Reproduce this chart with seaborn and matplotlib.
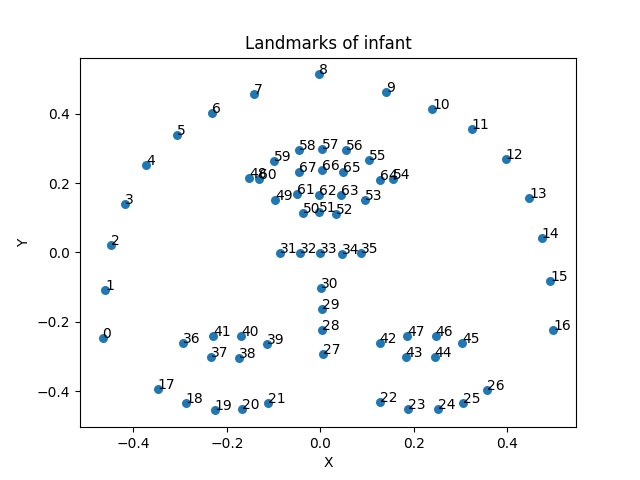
import numpy as np
import pandas as pd
import matplotlib
matplotlib.use("Agg")
import matplotlib.pyplot as plt
import seaborn as sns

# landmark coordinates, index = landmark id
x = [-0.466, -0.460, -0.447, -0.419, -0.372, -0.306, -0.232, -0.142, -0.002, 0.141,
     0.240, 0.324, 0.397, 0.447, 0.474, 0.492, 0.499, -0.348, -0.288, -0.226,
     -0.168, -0.112, 0.127, 0.188, 0.251, 0.305, 0.357, 0.006, 0.004, 0.004,
     0.001, -0.087, -0.044, -0.001, 0.047, 0.088, -0.294, -0.234, -0.174, -0.114,
     -0.170, -0.230, 0.127, 0.183, 0.245, 0.303, 0.247, 0.186, -0.152, -0.096,
     -0.037, -0.002, 0.034, 0.096, 0.155, 0.105, 0.054, 0.004, -0.046, -0.099,
     -0.131, -0.049, -0.002, 0.045, 0.127, 0.049, 0.004, -0.046]
y = [-0.247, -0.109, 0.021, 0.141, 0.253, 0.340, 0.403, 0.456, 0.514, 0.464,
     0.414, 0.355, 0.270, 0.157, 0.042, -0.083, -0.223, -0.395, -0.435, -0.456,
     -0.453, -0.435, -0.432, -0.453, -0.453, -0.434, -0.398, -0.294, -0.223, -0.164,
     -0.103, -0.003, -0.001, -0.001, -0.004, -0.002, -0.262, -0.302, -0.305, -0.265,
     -0.242, -0.242, -0.262, -0.302, -0.302, -0.262, -0.242, -0.242, 0.216, 0.151,
     0.115, 0.118, 0.112, 0.152, 0.212, 0.268, 0.295, 0.300, 0.295, 0.265,
     0.213, 0.170, 0.165, 0.167, 0.209, 0.233, 0.239, 0.233]

df = pd.DataFrame({"X": x, "Y": y})

fig, ax = plt.subplots(figsize=(6.4, 4.8), dpi=100)
sns.scatterplot(data=df, x="X", y="Y", ax=ax, s=42, linewidth=0, color="#1f77b4")

for i, (px, py) in enumerate(zip(x, y)):
    ax.text(px, py, str(i), fontsize=10)

ax.set_title("Landmarks of infant")
ax.set_xlabel("X")
ax.set_ylabel("Y")

plt.savefig("out.png", dpi=100)
plt.close()
